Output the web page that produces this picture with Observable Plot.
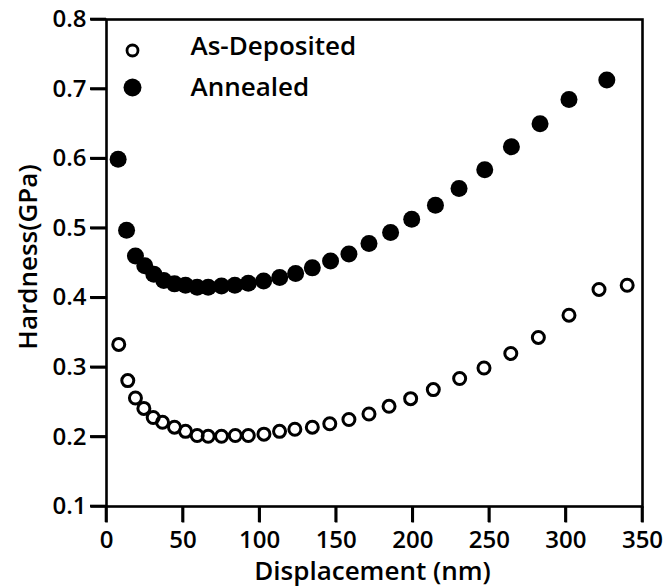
<!DOCTYPE html>
<html>
<head>
<meta charset="utf-8">
<script src="https://cdn.jsdelivr.net/npm/d3@7"></script>
<script src="https://cdn.jsdelivr.net/npm/@observablehq/plot@0.6"></script>
<style>
  html, body { margin: 0; padding: 0; background: #fff; overflow: hidden; }
  #chart svg { font-family: 'Open Sans', 'DejaVu Sans', sans-serif; font-size: 24px; font-weight: 600; }
</style>
</head>
<body>
<div id="chart"></div>
<script>
// Displacement (nm) and hardness (GPa)
const asDepositedX = [8.0, 13.9, 18.9, 24.4, 30.5, 36.6, 44.4, 51.6, 59.2, 66.4, 75.1, 84.1, 92.6, 102.8, 113.0, 123.0, 134.4, 145.8, 158.3, 171.4, 184.5, 198.6, 213.4, 230.6, 246.5, 264.0, 282.0, 302.0, 321.6, 340.0];
const asDepositedY = [0.333, 0.281, 0.256, 0.241, 0.228, 0.221, 0.214, 0.208, 0.202, 0.201, 0.201, 0.202, 0.202, 0.204, 0.208, 0.211, 0.214, 0.219, 0.225, 0.233, 0.244, 0.255, 0.268, 0.284, 0.299, 0.320, 0.343, 0.375, 0.412, 0.418];

const annealedX = [7.6, 13.1, 18.9, 25.0, 30.9, 37.4, 44.4, 51.6, 59.2, 66.4, 75.1, 83.8, 92.6, 102.6, 113.1, 123.5, 134.4, 146.3, 158.3, 171.4, 185.5, 199.3, 214.8, 230.2, 247.0, 264.4, 283.1, 302.0, 326.7];
const annealedY = [0.599, 0.497, 0.460, 0.446, 0.434, 0.425, 0.420, 0.418, 0.415, 0.415, 0.417, 0.418, 0.421, 0.424, 0.429, 0.435, 0.443, 0.453, 0.463, 0.478, 0.494, 0.513, 0.533, 0.557, 0.584, 0.617, 0.650, 0.685, 0.713];

const xTicks = [0, 50, 100, 150, 200, 250, 300, 350];
const yTicks = [0.1, 0.2, 0.3, 0.4, 0.5, 0.6, 0.7, 0.8];
const seriesNames = ["As-Deposited", "Annealed"];
const xLabel = "Displacement (nm)";
const yLabel = "Hardness(GPa)";

const asDeposited = asDepositedX.map((x, i) => ({x, y: asDepositedY[i]}));
const annealed = annealedX.map((x, i) => ({x, y: annealedY[i]}));

const W = 670, H = 587, mL = 106, mR = 28, mT = 19, mB = 81;
const xDomain = [0, 350], yDomain = [0.1, 0.8];
const tickPx = 16, tickW = 2.6;
const pxX = (xDomain[1] - xDomain[0]) / (W - mL - mR);
const pxY = (yDomain[1] - yDomain[0]) / (H - mT - mB);

const chart = Plot.plot({
  width: W,
  height: H,
  marginLeft: mL,
  marginRight: mR,
  marginTop: mT,
  marginBottom: mB,
  x: {domain: xDomain, ticks: xTicks, tickSize: tickPx, tickPadding: 8, tickFormat: d3.format("d"), label: null},
  y: {domain: yDomain, ticks: yTicks, tickSize: tickPx, tickPadding: 4, tickFormat: d3.format(".1f"), label: null},
  marks: [
    Plot.link(xTicks, {x1: d => d, x2: d => d, y1: yDomain[0], y2: yDomain[0] - pxY * tickPx, stroke: "#000", strokeWidth: tickW}),
    Plot.link(yTicks, {y1: d => d, y2: d => d, x1: xDomain[0], x2: xDomain[0] - pxX * tickPx, stroke: "#000", strokeWidth: tickW}),
    Plot.frame({stroke: "#000", strokeWidth: 2.6}),
    Plot.text([xLabel], {text: d => d, frameAnchor: "bottom", textAnchor: "middle", dy: 65, dx: -2, lineAnchor: "middle", fontSize: 26, fill: "#000"}),
    Plot.text([yLabel], {text: d => d, frameAnchor: "left", textAnchor: "middle", rotate: -90, dx: -78, dy: -6, lineAnchor: "middle", fontSize: 26, fill: "#000"}),
    Plot.dot(asDeposited, {x: "x", y: "y", r: 6, stroke: "#000", strokeWidth: 3, fill: "none"}),
    Plot.dot(annealed, {x: "x", y: "y", r: 8.5, fill: "#000", stroke: "none"}),
    // legend
    Plot.dot([seriesNames[0]], {frameAnchor: "top-left", dx: 26, dy: 31, r: 5.5, stroke: "#000", strokeWidth: 2.8, fill: "none"}),
    Plot.dot([seriesNames[1]], {frameAnchor: "top-left", dx: 26, dy: 68, r: 9, fill: "#000"}),
    Plot.text([seriesNames[0]], {text: d => d, frameAnchor: "top-left", dx: 84, dy: 27, textAnchor: "start", lineAnchor: "middle", fontSize: 26, fill: "#000"}),
    Plot.text([seriesNames[1]], {text: d => d, frameAnchor: "top-left", dx: 84, dy: 68, textAnchor: "start", lineAnchor: "middle", fontSize: 26, fill: "#000"})
  ]
});

// outward ticks placed with the chart's own scales, appended on top of everything
const sx = chart.scale("x"), sy = chart.scale("y");
const svg = d3.select(chart);
const tg = svg.append("g").attr("stroke", "#000").attr("stroke-width", tickW);
const y0 = sy.apply(yDomain[0]), x0 = sx.apply(xDomain[0]);
tg.selectAll("line.xt").data(xTicks).join("line")
  .attr("x1", d => sx.apply(d)).attr("x2", d => sx.apply(d))
  .attr("y1", y0).attr("y2", y0 + tickPx);
tg.selectAll("line.yt").data(yTicks).join("line")
  .attr("y1", d => sy.apply(d)).attr("y2", d => sy.apply(d))
  .attr("x1", x0).attr("x2", x0 - tickPx);

document.getElementById("chart").appendChild(chart);
</script>
</body>
</html>
